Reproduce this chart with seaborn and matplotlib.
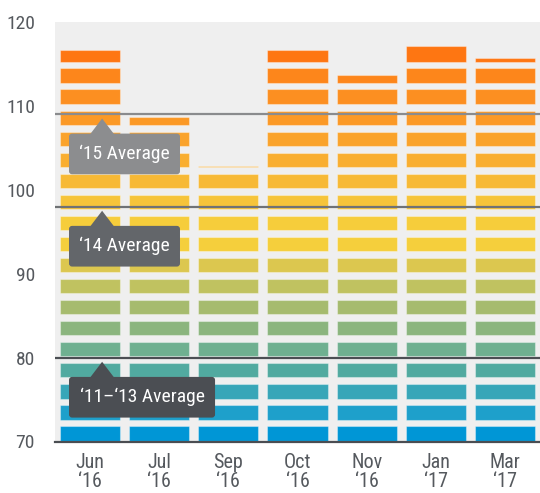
import numpy as np
import pandas as pd
import matplotlib
matplotlib.use("Agg")
import matplotlib.pyplot as plt
from matplotlib.patches import FancyBboxPatch, Polygon
import seaborn as sns

# data
months = ["Jun", "Jul", "Sep", "Oct", "Nov", "Jan", "Mar"]
years = ["\u201816", "\u201816", "\u201816", "\u201816", "\u201816", "\u201817", "\u201817"]
values = [116.7, 108.7, 102.8, 116.7, 113.7, 117.1, 115.7]

avg_labels = ["\u201815 Average", "\u201814 Average", "\u201811\u2013\u201813 Average"]
avg_values = [109.0, 98.0, 80.0]

# one colour per stripe, bottom (blue) to top (orange)
stripe_colors = ["#0096d6", "#1ea0cb", "#37a6b8", "#51aaa0", "#6fb090", "#8bb57e",
                 "#a6bb6e", "#c0c260", "#dcc74f", "#f5cf3c", "#f6cd3b", "#f6c43a",
                 "#f7b935", "#f9ae30", "#faa32b", "#fb9926", "#fc8f21", "#fd861b",
                 "#fe7612"]

line_colors = ["#8a8b8d", "#6f7275", "#4b4e53"]
box_colors = ["#8c8d8f", "#63666a", "#4b4e53"]
box_right = [1.304, 1.304, 1.81]

STEP = 2.51      # stripe pitch
OFFSET = 0.1
STRIPE_H = 1.7
BASE = 70

sns.set_style("white", {"axes.facecolor": "#efefef"})
plt.rcParams["font.family"] = ["Roboto Condensed", "DejaVu Sans"]
plt.rcParams["font.stretch"] = "condensed"

fig = plt.figure(figsize=(5.4, 4.93), dpi=100)
ax = fig.add_axes([55 / 540, 51.5 / 493, 485 / 540, 419.5 / 493])

df = pd.DataFrame({"month": months, "value": values})
for k, col in enumerate(stripe_colors):
    lo = BASE + k * STEP + OFFSET
    top = np.where(df["value"] < lo + STEP, df["value"], lo + STRIPE_H)
    layer = pd.DataFrame({"month": df["month"], "h": top - lo})
    layer = layer[layer["h"] > 0]
    if layer.empty:
        continue
    sns.barplot(data=layer, x="month", y="h", order=months, bottom=lo,
                color=col, saturation=1, width=0.866, errorbar=None,
                linewidth=0.8, edgecolor=(1, 1, 1, 0.35), zorder=2, ax=ax)

ax.set_xlim(-0.5, 6.5)
ax.set_ylim(70, 120)

# average lines + callouts
x_tip = 0.18
x_left = -0.298
for lab, val, lc, bc, xr in zip(avg_labels, avg_values, line_colors, box_colors, box_right):
    ax.axhline(val, color=lc, lw=1.6, zorder=3)
    tri = Polygon([(x_tip, val - 0.5), (0.0, val - 2.45), (0.36, val - 2.45)],
                  closed=True, facecolor=bc, edgecolor="none", zorder=4)
    ax.add_patch(tri)
    box = FancyBboxPatch((x_left, val - 2.3 - 4.85), xr - x_left, 4.85,
                         boxstyle="round,pad=0,rounding_size=0.045",
                         mutation_aspect=8.2, facecolor=bc, edgecolor="none", zorder=4)
    ax.add_patch(box)
    ax.text((x_left + xr) / 2, val - 2.3 - 4.85 / 2, lab, ha="center", va="center",
            color="white", fontsize=14, zorder=5)

ax.set_yticks([70, 80, 90, 100, 110, 120])
ax.set_xticks(range(len(months)))
ax.set_xticklabels([f"{m}\n{y}" for m, y in zip(months, years)], linespacing=1.0)
ax.set_xlabel("")
ax.set_ylabel("")
ax.tick_params(axis="y", length=0, pad=14.4, labelsize=14, labelcolor="#55595e")
ax.tick_params(axis="x", length=0, pad=8, labelsize=14.5, labelcolor="#55595e")

for s in ["top", "left", "right"]:
    ax.spines[s].set_visible(False)
ax.spines["bottom"].set_color("#4a4d52")
ax.spines["bottom"].set_linewidth(1.6)
ax.spines["bottom"].set_zorder(6)

fig.savefig("out.png", dpi=100, facecolor="white")
